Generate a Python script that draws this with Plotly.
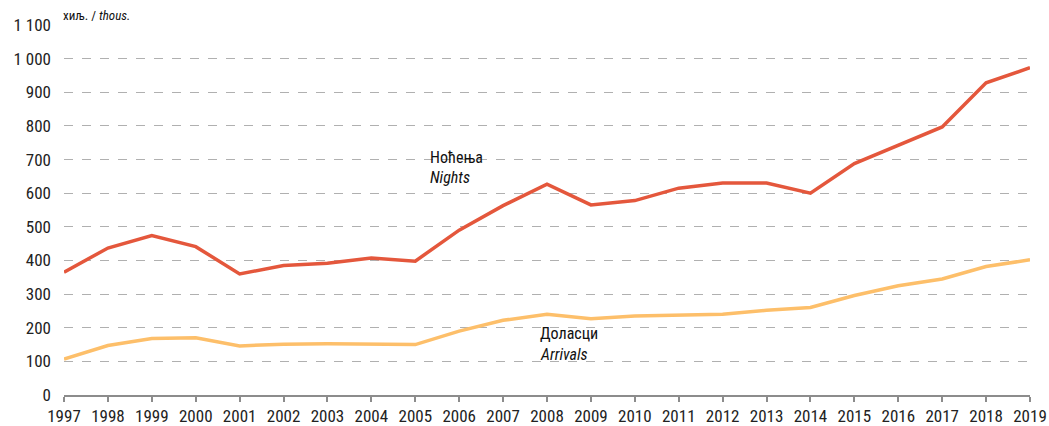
import plotly.graph_objects as go

years = list(range(1997, 2020))
nights = [365, 437, 474, 441, 360, 385, 392, 407, 398, 490, 563, 627, 565, 578,
          615, 630, 630, 600, 688, 742, 797, 928, 973]
arrivals = [107, 147, 168, 170, 146, 151, 152, 150, 150, 190, 222, 240, 227, 235,
            238, 240, 252, 260, 296, 325, 345, 382, 402]
y_ticks = [0, 100, 200, 300, 400, 500, 600, 700, 800, 900, 1000, 1100]
y_tick_labels = ["0", "100", "200", "300", "400", "500", "600", "700", "800", "900", "1 000", "1 100"]

FONT = "Liberation Sans Narrow, Arial Narrow, Roboto Condensed, Liberation Sans, sans-serif"
RED = "#E4573C"
ORANGE = "#FDBF6A"

fig = go.Figure()
fig.add_trace(go.Scatter(x=years, y=arrivals, mode="lines",
                         line=dict(color=ORANGE, width=3.5), hoverinfo="x+y"))
fig.add_trace(go.Scatter(x=years, y=nights, mode="lines",
                         line=dict(color=RED, width=3.5), hoverinfo="x+y"))

ann_font = dict(size=16, color="#111", family=FONT)
fig.add_annotation(x=2005.3, y=707, xref="x", yref="y", xanchor="left", yanchor="middle",
                   text="Ноћења", showarrow=False, font=ann_font)
fig.add_annotation(x=2005.3, y=647, xref="x", yref="y", xanchor="left", yanchor="middle",
                   text="<i>Nights</i>", showarrow=False, font=ann_font)
fig.add_annotation(x=2007.8, y=184, xref="x", yref="y", xanchor="left", yanchor="middle",
                   text="Доласци", showarrow=False, font=ann_font)
fig.add_annotation(x=2007.8, y=119, xref="x", yref="y", xanchor="left", yanchor="middle",
                   text="<i>Arrivals</i>", showarrow=False, font=ann_font)
fig.add_annotation(x=0.0, y=1.0, xref="paper", yref="paper", xanchor="left", yanchor="middle",
                   yshift=10, xshift=-3, text="хиљ. / <i>thous.</i>",
                   showarrow=False, font=dict(size=13, color="#111", family=FONT))

fig.update_layout(
    width=1049, height=426,
    margin=dict(l=64, r=19, t=25, b=31, autoexpand=False),
    paper_bgcolor="white", plot_bgcolor="white",
    showlegend=False,
    font=dict(family=FONT, size=17, color="#222"),
)

fig.update_xaxes(range=[1997, 2019], tickmode="array", tickvals=years,
                 ticktext=[str(y) for y in years], automargin=False,
                 showgrid=False, showline=True, linecolor="#8c8c8c", linewidth=2,
                 ticks="outside", ticklen=5, tickwidth=1.5, tickcolor="#8c8c8c",
                 tickfont=dict(size=17, color="#222", family=FONT), zeroline=False,
                 fixedrange=True)
fig.update_yaxes(range=[0, 1100], tickmode="array", tickvals=y_ticks, ticktext=y_tick_labels,
                 automargin=False,
                 showgrid=True, gridcolor="#b0b0b0", griddash="dash", gridwidth=1,
                 showline=False, zeroline=False, ticks="", ticklabelstandoff=12,
                 tickfont=dict(size=17, color="#222", family=FONT), fixedrange=True)

# Remove the default 8px page margin so the figure fills the window exactly.
fig.write_html("out.html", config={"displayModeBar": False},
               post_script="document.body.style.margin='0';document.body.style.overflow='hidden';")
